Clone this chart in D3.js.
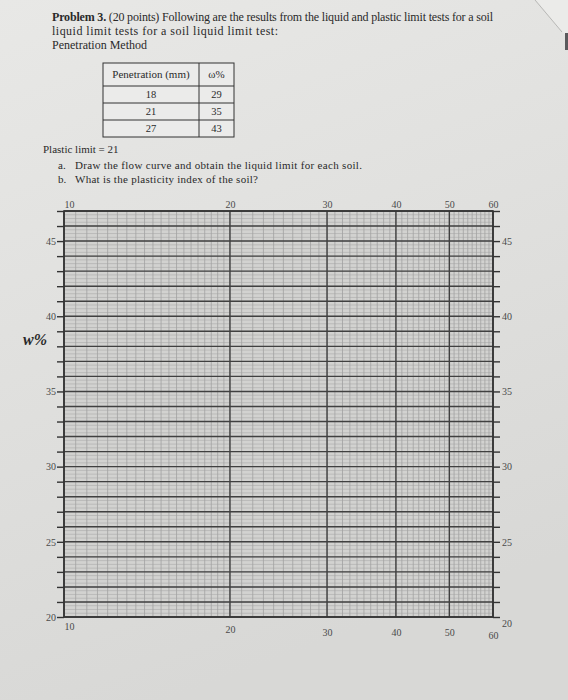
<!DOCTYPE html>
<html lang="en">
<head>
    <meta charset="UTF-8">
    <script src="https://d3js.org/d3.v7.min.js"></script>
    <style>
        body {
            margin: 0;
            background-color: #e4e4e2;
            overflow: hidden;
        }
        svg text {
            font-family: 'Liberation Serif', 'DejaVu Serif', serif;
            fill: #2a2a2a;
        }
        .tick text {
            font-size: 10px;
            fill: #4a4a4a;
        }
    </style>
</head>
<body>
    <svg id="sheet" width="568" height="700"></svg>

    <script>
        // data from the problem table
        const penetration = [18, 21, 27];
        const waterContent = [29, 35, 43];
        const plasticLimit = 21;

        // tick labels of the semi-log paper
        const xLabels = [10, 20, 30, 40, 50, 60];
        const yLabels = [20, 25, 30, 35, 40, 45];
        const xDomain = [10, 60];
        const yDomain = [20, 47];

        const svg = d3.select("#sheet");

        // paper background
        const defs = svg.append("defs");
        const grad = defs.append("linearGradient")
            .attr("id", "paper")
            .attr("x1", 0).attr("y1", 0).attr("x2", 0.3).attr("y2", 1);
        grad.append("stop").attr("offset", 0).attr("stop-color", "#e8e8e6");
        grad.append("stop").attr("offset", 1).attr("stop-color", "#d8d8d6");
        svg.append("rect")
            .attr("width", 568).attr("height", 700)
            .attr("fill", "url(#paper)");

        // page corner at the top right of the photo
        svg.append("path")
            .attr("d", "M536,0 L562,32 L568,36 L568,0 Z")
            .attr("fill", "#ebebe9");
        svg.append("path")
            .attr("d", "M535,0 L562,32")
            .attr("stroke", "#b8b8b6").attr("stroke-width", 1).attr("fill", "none");
        svg.append("rect")
            .attr("x", 565).attr("y", 33).attr("width", 3).attr("height", 17)
            .attr("fill", "#5a5a5c");

        // header text
        const header = [
            { y: 21, text: "(20 points) Following are the results from the liquid and plastic limit tests for a soil", bold: "Problem 3. ", len: 441 },
            { y: 35, text: "liquid limit tests for a soil liquid limit test:", len: 226 },
            { y: 49, text: "Penetration Method" }
        ];
        header.forEach(h => {
            const t = svg.append("text")
                .attr("x", 52).attr("y", h.y)
                .attr("font-size", 12);
            if (h.len) t.attr("textLength", h.len).attr("lengthAdjust", "spacing");
            if (h.bold) t.append("tspan").attr("font-weight", "bold").text(h.bold);
            t.append("tspan").text(h.text);
        });

        // table
        const table = svg.append("g");
        const colX = [103, 199, 234];
        const rowY = [63, 86, 103, 120, 137];
        table.append("rect")
            .attr("x", colX[0]).attr("y", rowY[0])
            .attr("width", colX[2] - colX[0]).attr("height", rowY[4] - rowY[0])
            .attr("fill", "#ebebea")
            .attr("stroke", "#333").attr("stroke-width", 1);
        rowY.slice(1, 4).forEach(yy => {
            table.append("line")
                .attr("x1", colX[0]).attr("x2", colX[2])
                .attr("y1", yy).attr("y2", yy)
                .attr("stroke", "#333");
        });
        table.append("line")
            .attr("x1", colX[1]).attr("x2", colX[1])
            .attr("y1", rowY[0]).attr("y2", rowY[4])
            .attr("stroke", "#333");
        table.append("text")
            .attr("x", (colX[0] + colX[1]) / 2).attr("y", 78)
            .attr("text-anchor", "middle").attr("font-size", 11)
            .text("Penetration (mm)");
        table.append("text")
            .attr("x", (colX[1] + colX[2]) / 2).attr("y", 78)
            .attr("text-anchor", "middle").attr("font-size", 11)
            .text("ω%");
        penetration.forEach((p, i) => {
            const cy = (rowY[i + 1] + rowY[i + 2]) / 2 + 3.5;
            table.append("text")
                .attr("x", (colX[0] + colX[1]) / 2).attr("y", cy)
                .attr("text-anchor", "middle").attr("font-size", 10.5)
                .text(p);
            table.append("text")
                .attr("x", (colX[1] + colX[2]) / 2).attr("y", cy)
                .attr("text-anchor", "middle").attr("font-size", 10.5)
                .text(waterContent[i]);
        });

        // questions
        svg.append("text").attr("x", 43).attr("y", 153).attr("font-size", 11)
            .text("Plastic limit = " + plasticLimit);
        svg.append("text").attr("x", 58).attr("y", 169).attr("font-size", 11).text("a.");
        svg.append("text").attr("x", 75).attr("y", 169).attr("font-size", 11)
            .attr("textLength", 287).attr("lengthAdjust", "spacing")
            .text("Draw the flow curve and obtain the liquid limit for each soil.");
        svg.append("text").attr("x", 58).attr("y", 183).attr("font-size", 11).text("b.");
        svg.append("text").attr("x", 75).attr("y", 183).attr("font-size", 11)
            .attr("textLength", 183).attr("lengthAdjust", "spacing")
            .text("What is the plasticity index of the soil?");

        // semi-log grid
        const plotLeft = 64, plotRight = 493, plotTop = 211, plotBottom = 617;
        const x = d3.scaleLog().domain(xDomain).range([plotLeft, plotRight]);
        const y = d3.scaleLinear().domain(yDomain).range([plotBottom, plotTop]);

        const grid = svg.append("g");
        const xMinor = d3.range(10, 20, 0.5).concat(d3.range(20, 61, 1));
        const yMinor = d3.range(yDomain[0], yDomain[1] + 0.01, 0.25);
        const yMajor = d3.range(yDomain[0], yDomain[1] + 1, 1);

        grid.append("rect")
            .attr("x", plotLeft).attr("y", plotTop)
            .attr("width", plotRight - plotLeft).attr("height", plotBottom - plotTop)
            .attr("fill", "#d2d2d0");
        grid.selectAll(".vminor").data(xMinor).enter().append("line")
            .attr("x1", d => x(d)).attr("x2", d => x(d))
            .attr("y1", plotTop).attr("y2", plotBottom)
            .attr("stroke", "#929292").attr("stroke-width", 0.6);
        grid.selectAll(".hminor").data(yMinor).enter().append("line")
            .attr("x1", plotLeft).attr("x2", plotRight)
            .attr("y1", d => y(d)).attr("y2", d => y(d))
            .attr("stroke", "#a2a2a2").attr("stroke-width", 0.5);
        grid.selectAll(".hmajor").data(yMajor).enter().append("line")
            .attr("x1", plotLeft).attr("x2", plotRight)
            .attr("y1", d => y(d)).attr("y2", d => y(d))
            .attr("stroke", "#404040").attr("stroke-width", 1.4);
        grid.selectAll(".vmajor").data(xLabels).enter().append("line")
            .attr("x1", d => x(d)).attr("x2", d => x(d))
            .attr("y1", plotTop).attr("y2", plotBottom)
            .attr("stroke", "#404040").attr("stroke-width", 1.4);
        grid.append("rect")
            .attr("x", plotLeft).attr("y", plotTop)
            .attr("width", plotRight - plotLeft).attr("height", plotBottom - plotTop)
            .attr("fill", "none").attr("stroke", "#333").attr("stroke-width", 1.6);

        // axes
        const fmtY = d => yLabels.includes(d) ? d : "";
        const leftAxis = svg.append("g")
            .attr("transform", `translate(${plotLeft},0)`)
            .call(d3.axisLeft(y).tickValues(yMajor).tickSize(7).tickPadding(1).tickFormat(fmtY));
        const rightAxis = svg.append("g")
            .attr("transform", `translate(${plotRight},0)`)
            .call(d3.axisRight(y).tickValues(yMajor).tickSize(7).tickPadding(2).tickFormat(fmtY));
        const topAxis = svg.append("g")
            .attr("transform", `translate(0,${plotTop})`)
            .call(d3.axisTop(x).tickValues(xLabels).tickSize(0).tickPadding(3).tickFormat(d3.format("d")));
        const bottomAxis = svg.append("g")
            .attr("transform", `translate(0,${plotBottom})`)
            .call(d3.axisBottom(x).tickValues(xLabels).tickSize(0).tickPadding(9).tickFormat(d3.format("d")));

        [leftAxis, rightAxis, topAxis, bottomAxis].forEach(a => {
            a.select(".domain").remove();
            a.selectAll(".tick line").attr("stroke", "#333").attr("stroke-width", 1.4);
        });
        topAxis.selectAll(".tick text").filter(d => d === 10).attr("text-anchor", "start");
        bottomAxis.selectAll(".tick text").filter(d => d === 10).attr("text-anchor", "start").attr("dy", "0.4em");
        bottomAxis.selectAll(".tick text").filter(d => d >= 30).attr("dy", "1em");
        bottomAxis.selectAll(".tick text").filter(d => d === 60).attr("dy", "1.3em");
        rightAxis.selectAll(".tick text").filter(d => d === 20).attr("dy", "0.9em");

        // w% label
        svg.append("text")
            .attr("x", 23).attr("y", 345)
            .attr("font-size", 16).attr("font-style", "italic").attr("font-weight", "bold")
            .attr("fill", "#333")
            .text("w%");
    </script>
</body>
</html>
